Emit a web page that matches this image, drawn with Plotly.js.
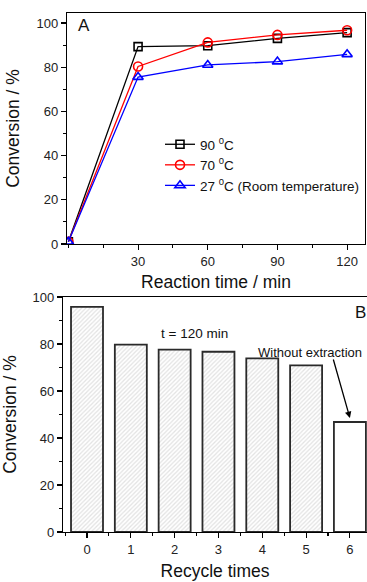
<!DOCTYPE html>
<html>
<head>
<meta charset="utf-8">
<script src="https://cdn.plot.ly/plotly-3.0.1.min.js"></script>
<style>html,body{margin:0;padding:0;background:#fff;}#chart{width:367px;height:582px;}</style>
</head>
<body>
<div id="chart"></div>
<script>
// Panel A data
const timeMin = [0, 30, 60, 90, 120];
const conv90 = [1, 89.3, 89.7, 93, 95.6];
const conv70 = [1, 80.3, 91.2, 94.6, 96.7];
const conv27 = [1, 75.5, 81, 82.5, 85.8];
const seriesNames = ["90 <sup>0</sup>C", "70 <sup>0</sup>C", "27 <sup>0</sup>C (Room temperature)"];
// Panel B data
const recycleTimes = [0, 1, 2, 3, 4, 5, 6];
const recycleConv = [95.8, 79.7, 77.6, 76.7, 73.9, 70.9, 46.8];
const xTicksA = [30, 60, 90, 120];
const yTicks = [0, 20, 40, 60, 80, 100];

const F = "Arial, 'Liberation Sans', sans-serif";
const W = 367, H = 582;
const px = v => v / W, py = v => 1 - v / H;

const traces = [
  {x: timeMin, y: conv90, name: seriesNames[0], mode: "lines+markers", xaxis: "x", yaxis: "y",
   line: {color: "#000", width: 1.3}, marker: {symbol: "square-open", size: 8, color: "#000", line: {width: 1.6}}},
  {x: timeMin, y: conv70, name: seriesNames[1], mode: "lines+markers", xaxis: "x", yaxis: "y",
   line: {color: "#ff0000", width: 1.3}, marker: {symbol: "circle-open", size: 9, color: "#ff0000", line: {width: 1.6}}},
  {x: timeMin, y: conv27, name: seriesNames[2], mode: "lines+markers", xaxis: "x", yaxis: "y",
   line: {color: "#0000ff", width: 1.3}, marker: {symbol: "triangle-up-open", size: 9, color: "#0000ff", line: {width: 1.6}}},
  {x: recycleTimes, y: recycleConv, type: "bar", xaxis: "x2", yaxis: "y2", showlegend: false, width: 0.73,
   marker: {color: recycleTimes.map((t, i) => i === 6 ? "#ffffff" : "#e2e2e2"),
            line: {color: "#2a2a2a", width: 1.8},
            pattern: {shape: recycleTimes.map((t, i) => i === 6 ? "" : "/"), fgcolor: "#909090", bgcolor: "#e2e2e2", size: 3, solidity: 0.4}}}
];

const axisCommon = {showline: true, linecolor: "#000", linewidth: 1.2, ticks: "outside", ticklen: 5, tickwidth: 1.1,
  tickcolor: "#000", showgrid: false, zeroline: false, tickfont: {family: F, size: 13, color: "#222"}};

const layout = {
  width: W, height: H, margin: {l: 0, r: 0, t: 0, b: 0}, paper_bgcolor: "#fff", plot_bgcolor: "#fff",
  font: {family: F, color: "#111"},
  xaxis: Object.assign({}, axisCommon, {domain: [px(67), px(365)], range: [-0.6, 127.7], tickvals: xTicksA, mirror: true,
    minor: {ticks: "outside", ticklen: 3, tickcolor: "#000", dtick: 15, tick0: 0},
    title: {text: "Reaction time / min", font: {family: F, size: 17.5, color: "#111"}, standoff: 8}}),
  yaxis: Object.assign({}, axisCommon, {domain: [py(244), py(13)], range: [0, 104.5], tickvals: yTicks, mirror: true,
    minor: {ticks: "outside", ticklen: 3, tickcolor: "#000", dtick: 10, tick0: 0},
    title: {text: "Conversion / %", font: {family: F, size: 17.5, color: "#111"}, standoff: 12}}),
  xaxis2: Object.assign({}, axisCommon, {domain: [px(63), 1], range: [-0.548, 6.39], tickvals: recycleTimes, mirror: true, anchor: "y2",
    minor: {ticks: "outside", ticklen: 3, tickcolor: "#000", dtick: 0.5, tick0: 0.5},
    title: {text: "Recycle times", font: {family: F, size: 17.5, color: "#111"}, standoff: 9}}),
  yaxis2: Object.assign({}, axisCommon, {domain: [py(532), py(297)], range: [0, 100], tickvals: yTicks, anchor: "x2",
    minor: {ticks: "outside", ticklen: 3, tickcolor: "#000", dtick: 10, tick0: 0},
    title: {text: "Conversion / %", font: {family: F, size: 17.5, color: "#111"}, standoff: 12}}),
  legend: {x: px(160), y: py(129), xanchor: "left", yanchor: "top", bgcolor: "rgba(0,0,0,0)",
    font: {family: F, size: 13.5, color: "#111"}, itemwidth: 30, tracegroupgap: 0},
  annotations: [
    {text: "A", xref: "paper", yref: "paper", x: px(76), y: py(26), xanchor: "left", yanchor: "middle", showarrow: false, font: {family: F, size: 17, color: "#111"}},
    {text: "B", xref: "paper", yref: "paper", x: px(353), y: py(312), xanchor: "left", yanchor: "middle", showarrow: false, font: {family: F, size: 17, color: "#111"}},
    {text: "t = 120 min", xref: "paper", yref: "paper", x: px(194), y: py(333), xanchor: "center", yanchor: "middle", showarrow: false, font: {family: F, size: 13.5, color: "#111"}},
    {text: "Without extraction", xref: "paper", yref: "paper", x: px(256), y: py(352), xanchor: "left", yanchor: "middle", showarrow: false, font: {family: F, size: 13, color: "#111"}},
    {text: "", xref: "x2", yref: "y2", x: 6, y: 48.5, showarrow: true, ax: -17, ay: -60, arrowhead: 2, arrowsize: 1, arrowwidth: 1.3, arrowcolor: "#000"}
  ]
};

Plotly.newPlot("chart", traces, layout, {staticPlot: true, displayModeBar: false});
</script>
</body>
</html>
